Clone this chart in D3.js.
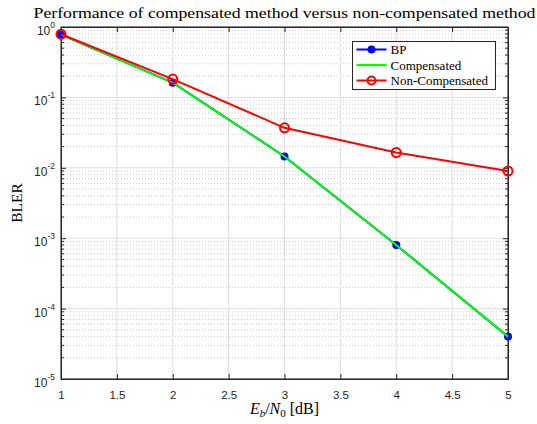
<!DOCTYPE html>
<meta charset="utf-8">
<style>
    body { margin: 0; background: #fff; }
    .tick text { font: 11.5px "Liberation Sans", Arial, sans-serif; fill: #262626; }
    .ylab { font: 12px "Liberation Sans", Arial, sans-serif; fill: #262626; }
    .serif { font-family: "Liberation Serif", "DejaVu Serif", serif; fill: #000; }
</style>
<body>
<svg width="537" height="424"></svg>
<script src="https://d3js.org/d3.v7.min.js"></script>
<script>
    var ebn0 = [1, 2, 3, 4, 5];
    var bp = [0.78, 0.162, 0.0145, 0.0008, 0.00004];
    var compensated = [0.78, 0.162, 0.0145, 0.0008, 0.00004];
    var nonCompensated = [0.79, 0.182, 0.037, 0.0165, 0.009];
    var xTicks = [1, 1.5, 2, 2.5, 3, 3.5, 4, 4.5, 5];
    var yDecades = [-5, -4, -3, -2, -1, 0];

    var svg = d3.select("svg"),
        margin = {top: 27, right: 29, bottom: 45, left: 61},
        width = 537 - margin.left - margin.right,
        height = 424 - margin.top - margin.bottom;

    var x = d3.scaleLinear().domain([1, 5]).range([0, width]);
    var y = d3.scaleLog().domain([1e-5, 1]).range([height, 0]);

    var g = svg.append("g")
        .attr("transform", "translate(" + margin.left + "," + margin.top + ")");

    // minor horizontal grid
    var minor = [];
    yDecades.slice(0, -1).forEach(function (e) {
        for (var k = 2; k <= 9; k++) minor.push(k * Math.pow(10, e));
    });
    g.selectAll(".minor").data(minor).enter().append("line")
        .attr("x1", 0).attr("x2", width)
        .attr("y1", function (d) { return y(d); })
        .attr("y2", function (d) { return y(d); })
        .attr("stroke", "#b5b5b5").attr("stroke-width", 0.7)
        .attr("stroke-dasharray", "1,2");

    // major grid
    g.selectAll(".hmaj").data(yDecades).enter().append("line")
        .attr("x1", 0).attr("x2", width)
        .attr("y1", function (d) { return y(Math.pow(10, d)); })
        .attr("y2", function (d) { return y(Math.pow(10, d)); })
        .attr("stroke", "#dedede").attr("stroke-width", 1);
    g.selectAll(".vmaj").data(xTicks).enter().append("line")
        .attr("y1", 0).attr("y2", height)
        .attr("x1", function (d) { return x(d); })
        .attr("x2", function (d) { return x(d); })
        .attr("stroke", "#dedede").attr("stroke-width", 1);

    // axes box with inward ticks
    var minorTicks = function (sel, side) {
        sel.selectAll(".mt" + side).data(minor).enter().append("line")
            .attr("x1", side == "l" ? 0 : width)
            .attr("x2", side == "l" ? 3 : width - 3)
            .attr("y1", function (d) { return y(d); })
            .attr("y2", function (d) { return y(d); })
            .attr("stroke", "#262626").attr("stroke-width", 1);
    };

    g.append("g")
        .attr("transform", "translate(0," + height + ")")
        .call(d3.axisBottom(x).tickValues(xTicks).tickSizeInner(-5).tickSizeOuter(0).tickPadding(12)
            .tickFormat(d3.format("")));
    g.append("g")
        .call(d3.axisTop(x).tickValues(xTicks).tickSizeInner(-5).tickSizeOuter(0).tickFormat(""));

    var yTickVals = yDecades.map(function (e) { return Math.pow(10, e); });
    g.append("g")
        .call(d3.axisLeft(y).tickValues(yTickVals).tickSizeInner(-5).tickSizeOuter(0).tickFormat(""));
    g.append("g")
        .attr("transform", "translate(" + width + ",0)")
        .call(d3.axisRight(y).tickValues(yTickVals).tickSizeInner(-5).tickSizeOuter(0).tickFormat(""));

    // y tick labels 10^n
    g.selectAll(".ylab").data(yTickVals).enter().append("text")
        .attr("class", "ylab")
        .attr("x", -6)
        .attr("y", function (d) { return y(d) + 8; })
        .attr("text-anchor", "end")
        .each(function (d) {
            var t = d3.select(this);
            t.append("tspan").text("10");
            t.append("tspan").attr("dy", "-7").attr("font-size", "8.5px")
                .text(Math.round(Math.log10(d)) === 0 ? "0" : Math.round(Math.log10(d)));
        });

    minorTicks(g, "l");
    minorTicks(g, "r");

    g.selectAll(".domain").attr("stroke", "#262626");
    g.selectAll(".tick line").attr("stroke", "#262626");

    g.append("rect").attr("width", width).attr("height", height)
        .attr("fill", "none").attr("stroke", "#262626").attr("stroke-width", 1);

    // series
    var line = function (vals) {
        return d3.line()
            .x(function (d, i) { return x(ebn0[i]); })
            .y(function (d) { return y(d); })(vals);
    };

    g.append("path").attr("d", line(bp))
        .attr("fill", "none").attr("stroke", "#0000ff").attr("stroke-width", 2);
    g.selectAll(".bp").data(bp).enter().append("circle")
        .attr("cx", function (d, i) { return x(ebn0[i]); })
        .attr("cy", function (d) { return y(d); })
        .attr("r", 4).attr("fill", "#0000ff");
    g.append("path").attr("d", line(compensated))
        .attr("fill", "none").attr("stroke", "#00ff00").attr("stroke-width", 2);
    g.append("path").attr("d", line(nonCompensated))
        .attr("fill", "none").attr("stroke", "#ff0000").attr("stroke-width", 2);
    g.selectAll(".nc").data(nonCompensated).enter().append("circle")
        .attr("cx", function (d, i) { return x(ebn0[i]); })
        .attr("cy", function (d) { return y(d); })
        .attr("r", 4.5).attr("fill", "none").attr("stroke", "#ff0000").attr("stroke-width", 2);

    // legend
    var legendItems = [
        {name: "BP", color: "#0000ff", marker: "filled"},
        {name: "Compensated", color: "#00ff00", marker: "none"},
        {name: "Non-Compensated", color: "#ff0000", marker: "open"}
    ];
    var lg = svg.append("g").attr("transform", "translate(352.5,41.5)");
    lg.append("rect").attr("width", 143).attr("height", 48)
        .attr("fill", "#fff").attr("stroke", "#262626").attr("stroke-width", 1);
    legendItems.forEach(function (d, i) {
        var yy = 8 + i * 15.5;
        lg.append("line").attr("x1", 4).attr("x2", 34).attr("y1", yy).attr("y2", yy)
            .attr("stroke", d.color).attr("stroke-width", 2);
        if (d.marker == "filled") {
            lg.append("circle").attr("cx", 19).attr("cy", yy).attr("r", 4).attr("fill", d.color);
        } else if (d.marker == "open") {
            lg.append("circle").attr("cx", 19).attr("cy", yy).attr("r", 4)
                .attr("fill", "none").attr("stroke", d.color).attr("stroke-width", 2);
        }
        lg.append("text").attr("class", "serif").attr("x", 38).attr("y", yy).attr("dy", "0.35em")
            .attr("font-size", "13px").text(d.name);
    });

    // title and labels
    svg.append("text").attr("class", "serif")
        .attr("x", margin.left + width / 2).attr("y", 18)
        .attr("text-anchor", "middle").attr("font-size", "15px")
        .attr("textLength", 502).attr("lengthAdjust", "spacingAndGlyphs")
        .text("Performance of compensated method versus non-compensated method");

    svg.append("text").attr("class", "serif")
        .attr("transform", "translate(22," + (margin.top + height / 2) + ") rotate(-90)")
        .attr("text-anchor", "middle").attr("font-size", "15.5px")
        .text("BLER");

    var xl = svg.append("text").attr("class", "serif")
        .attr("x", margin.left + width / 2).attr("y", 414)
        .attr("text-anchor", "middle").attr("font-size", "16px");
    xl.append("tspan").attr("font-style", "italic").text("E");
    xl.append("tspan").attr("font-style", "italic").attr("font-size", "11px").attr("dy", "3").text("b");
    xl.append("tspan").attr("dy", "-3").text("/");
    xl.append("tspan").attr("font-style", "italic").text("N");
    xl.append("tspan").attr("font-size", "11px").attr("dy", "3").text("0");
    xl.append("tspan").attr("dy", "-3").text(" [dB]");
</script>
</body>
